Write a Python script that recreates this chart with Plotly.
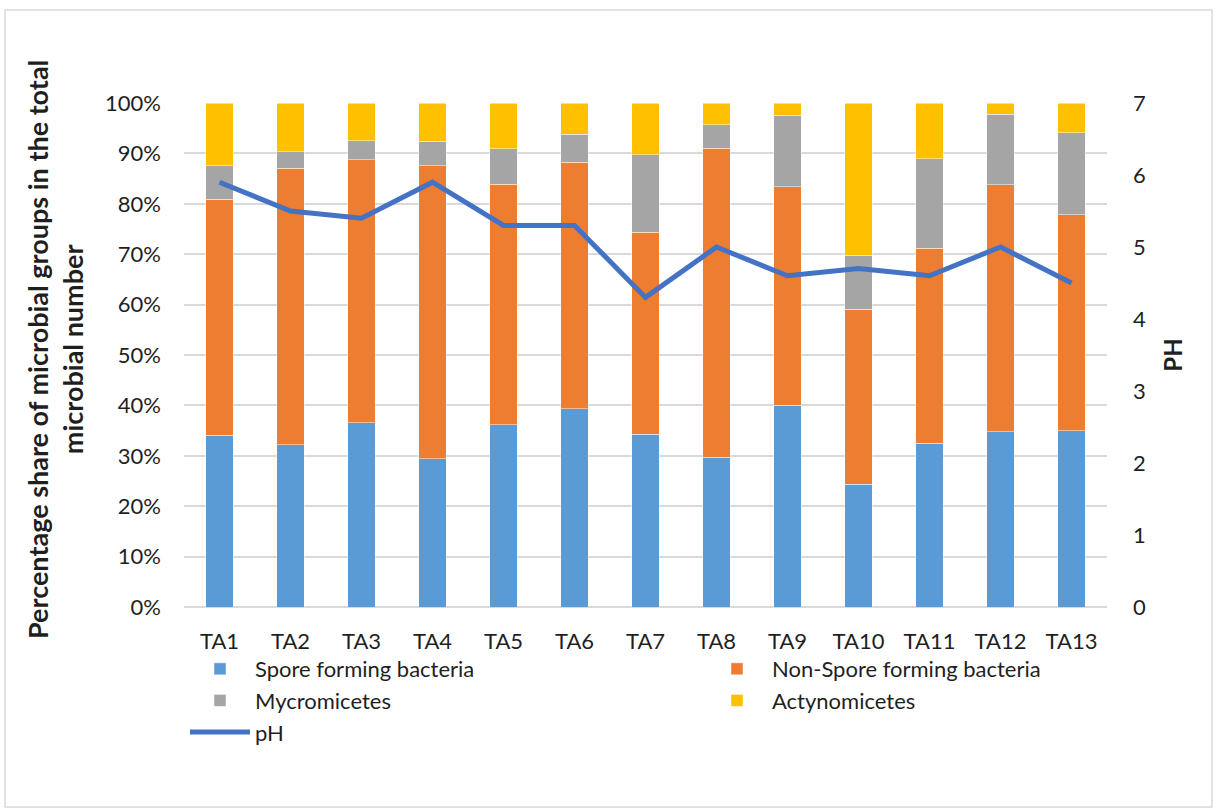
import plotly.graph_objects as go

# Sampling sites
sites = ["TA1", "TA2", "TA3", "TA4", "TA5", "TA6", "TA7",
         "TA8", "TA9", "TA10", "TA11", "TA12", "TA13"]

# Share of each microbial group in the total microbial number (%)
spore_forming = [34.1, 32.2, 36.6, 29.4, 36.2, 39.3, 34.3, 29.7, 40.0, 24.4, 32.5, 34.8, 35.0]
non_spore_forming = [46.8, 54.9, 52.1, 58.2, 47.7, 48.9, 40.1, 61.3, 43.4, 34.7, 38.7, 49.0, 42.8]
mycromicetes = [6.7, 3.2, 3.8, 4.8, 7.0, 5.6, 15.3, 4.7, 14.2, 10.7, 17.7, 14.0, 16.3]
actynomicetes = [12.4, 9.7, 7.5, 7.6, 9.1, 6.2, 10.3, 4.3, 2.4, 30.2, 11.1, 2.2, 5.9]

# Soil pH at each site
ph = [5.9, 5.5, 5.4, 5.9, 5.3, 5.3, 4.3, 5.0, 4.6, 4.7, 4.6, 5.0, 4.5]

left_ticks = [0, 10, 20, 30, 40, 50, 60, 70, 80, 90, 100]
left_labels = [f"{v}%" for v in left_ticks]
right_ticks = [0, 1, 2, 3, 4, 5, 6, 7]

FONT = "Lato, Carlito, Calibri, sans-serif"
TXT = "#1f1f1f"
TICK_SIZE = 22

# Figure geometry (pixels)
W, H = 1215, 811
L, R, T, B = 184, 108, 103, 204
PW, PH_ = W - L - R, H - T - B


def px_x(x):
    return (x - L) / PW


def px_y(y):
    return (H - B - y) / PH_


fig = go.Figure()

# (name, values, colour, legend column)
groups = [
    ("Spore forming bacteria", spore_forming, "#5B9BD5", "legend"),
    ("Non-Spore forming bacteria", non_spore_forming, "#ED7D31", "legend2"),
    ("Mycromicetes", mycromicetes, "#A5A5A5", "legend"),
    ("Actynomicetes", actynomicetes, "#FFC000", "legend2"),
]
for name, vals, col, leg in groups:
    fig.add_trace(go.Bar(
        x=sites, y=vals, name=name, legend=leg, legendgroup=name,
        marker=dict(color=col, line=dict(color="rgba(255,255,255,0.6)", width=0.8)),
    ))

fig.add_trace(go.Scatter(
    x=sites, y=ph, name="pH", yaxis="y2", mode="lines",
    legend="legend", legendgroup="pH",
    line=dict(color="#4472C4", width=5),
))

legend_style = dict(
    orientation="v", xanchor="left", yanchor="top",
    itemwidth=60, tracegroupgap=4,
    font=dict(family=FONT, size=TICK_SIZE, color=TXT),
    traceorder="normal", bgcolor="rgba(0,0,0,0)",
)

fig.update_layout(
    width=W, height=H,
    margin=dict(l=L, r=R, t=T, b=B, autoexpand=False),
    paper_bgcolor="white", plot_bgcolor="white",
    barmode="stack", bargap=0.61,
    font=dict(family=FONT, size=TICK_SIZE, color=TXT),
    showlegend=True,
    legend=dict(x=px_x(185), y=px_y(648), **legend_style),
    legend2=dict(x=px_x(702), y=px_y(648), **legend_style),
    xaxis=dict(
        type="category", showgrid=False, showline=False, ticks="",
        tickfont=dict(size=TICK_SIZE, color=TXT), ticklabelstandoff=19,
    ),
    yaxis=dict(
        range=[0, 100], tickvals=left_ticks, ticktext=left_labels,
        showgrid=True, gridcolor="#d9d9d9", gridwidth=1.5,
        zeroline=True, zerolinecolor="#d9d9d9", zerolinewidth=1.5,
        showline=False, ticks="", ticklabelstandoff=22,
        tickfont=dict(size=TICK_SIZE, color=TXT),
    ),
    yaxis2=dict(
        range=[0, 7], tickvals=right_ticks, overlaying="y", side="right",
        showgrid=False, zeroline=False, showline=False, ticks="",
        ticklabelstandoff=25,
        tickfont=dict(size=TICK_SIZE, color=TXT),
        title=dict(text="<b>PH</b>", font=dict(size=24, color=TXT), standoff=20),
    ),
    shapes=[dict(
        type="rect", xref="paper", yref="paper",
        x0=px_x(5), x1=px_x(1212), y0=px_y(10), y1=px_y(807),
        line=dict(color="#d9d9d9", width=1.5), fillcolor="rgba(0,0,0,0)",
        layer="below",
    )],
    annotations=[dict(
        text="<b>Percentage share of microbial groups in the total<br>microbial number</b>",
        xref="paper", yref="paper", x=px_x(55), y=px_y(350),
        xanchor="center", yanchor="middle", textangle=-90, showarrow=False,
        font=dict(family=FONT, size=27, color=TXT),
    )],
)

fig.write_html("out.html")
